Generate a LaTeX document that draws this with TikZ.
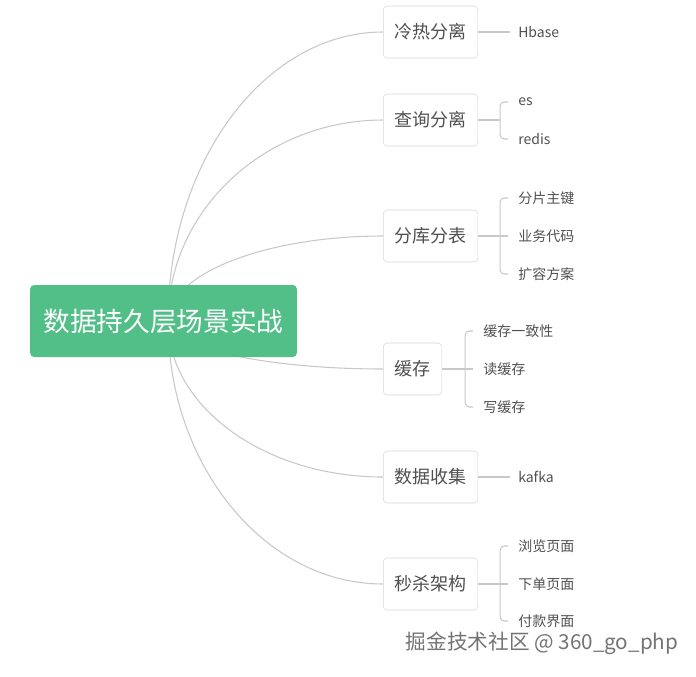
\documentclass[tikz,border=0pt]{standalone}
\usepackage{fontspec}
\setmainfont{Noto Sans CJK SC}
\usetikzlibrary{calc, backgrounds}
\definecolor{mapgreen}{HTML}{52BE88}
\definecolor{mapline}{HTML}{C8C8C8}
\definecolor{mapbox}{HTML}{D6D6D6}
\definecolor{maptext}{HTML}{505050}

\begin{document}
\begin{tikzpicture}[x=0.75pt, y=-0.75pt,
  root/.style={fill=mapgreen, rounded corners=3pt, text=white,
    minimum width=200pt, minimum height=54pt, font=\fontsize{20}{24}\selectfont},
  topic/.style={draw=mapbox, fill=white, rounded corners=3pt, anchor=west, text=maptext,
    minimum height=39pt, inner xsep=8.5pt, font=\fontsize{13.5}{16}\selectfont},
  leaf/.style={anchor=west, inner xsep=0pt, text=maptext, font=\fontsize{10.5}{12}\selectfont},
  branch/.style={draw=mapline, line width=0.8pt},
  fork/.style={draw=mapline, line width=0.8pt, rounded corners=3pt}]
  \useasboundingbox (0,0) rectangle (696,676);

  % second level
  \node[topic] (lengre) at (383,32) {冷热分离};
  \node[topic] (chaxun) at (383,120) {查询分离};
  \node[topic] (fenku) at (383,236) {分库分表};
  \node[topic] (huancun) at (383,369) {缓存};
  \node[topic] (shouji) at (383,477) {数据收集};
  \node[topic] (miaosha) at (383,584) {秒杀架构};

  % leaves
  \node[leaf] (hbase) at (518,32) {Hbase};
  \node[leaf] (es) at (518,102) {es};
  \node[leaf] (redis) at (518,139) {redis};
  \node[leaf] (zhujian) at (518,198) {分片主键};
  \node[leaf] (daima) at (518,236) {业务代码};
  \node[leaf] (kuorong) at (518,274) {扩容方案};
  \node[leaf] (yizhi) at (483,331) {缓存一致性};
  \node[leaf] (duhc) at (483,369) {读缓存};
  \node[leaf] (xiehc) at (483,407) {写缓存};
  \node[leaf] (kafka) at (518,477) {kafka};
  \node[leaf] (liulan) at (518,546) {浏览页面};
  \node[leaf] (xiadan) at (518,584) {下单页面};
  \node[leaf] (fukuan) at (518,621) {付款界面};

  % root
  \node[root] (main) at (163.5,321) {数据持久层场景实战};
  \coordinate (hub) at (168,321);

  \begin{scope}[on background layer]
    \draw[branch] (hub) .. controls ($(hub)!0.55!(hub|-lengre.west)$) and ($(lengre.west)!0.55!(hub|-lengre.west)$) .. (lengre.west);
    \draw[branch] (hub) .. controls ($(hub)!0.55!(hub|-chaxun.west)$) and ($(chaxun.west)!0.55!(hub|-chaxun.west)$) .. (chaxun.west);
    \draw[branch] (hub) .. controls ($(hub)!0.55!(hub|-fenku.west)$) and ($(fenku.west)!0.55!(hub|-fenku.west)$) .. (fenku.west);
    \draw[branch] (hub) .. controls ($(hub)!0.55!(hub|-huancun.west)$) and ($(huancun.west)!0.55!(hub|-huancun.west)$) .. (huancun.west);
    \draw[branch] (hub) .. controls ($(hub)!0.55!(hub|-shouji.west)$) and ($(shouji.west)!0.55!(hub|-shouji.west)$) .. (shouji.west);
    \draw[branch] (hub) .. controls ($(hub)!0.55!(hub|-miaosha.west)$) and ($(miaosha.west)!0.55!(hub|-miaosha.west)$) .. (miaosha.west);
  \end{scope}

  % single leaves
  \draw[branch] (lengre.east) -- ([xshift=-6pt]hbase.west);
  \draw[branch] (shouji.east) -- ([xshift=-6pt]kafka.west);

  % forks
  \draw[branch] (chaxun.east) -- ++(22,0) coordinate (jchaxun);
  \draw[fork] (jchaxun) |- ([xshift=-7.5pt]es.west);
  \draw[fork] (jchaxun) |- ([xshift=-7.5pt]redis.west);

  \draw[branch] (fenku.east) -- ++(22,0) coordinate (jfenku);
  \draw[fork] (jfenku) |- ([xshift=-7.5pt]zhujian.west);
  \draw[branch] (jfenku) -- ([xshift=-7.5pt]daima.west);
  \draw[fork] (jfenku) |- ([xshift=-7.5pt]kuorong.west);

  \draw[branch] (huancun.east) -- ++(23,0) coordinate (jhuancun);
  \draw[fork] (jhuancun) |- ([xshift=-7.5pt]yizhi.west);
  \draw[branch] (jhuancun) -- ([xshift=-7.5pt]duhc.west);
  \draw[fork] (jhuancun) |- ([xshift=-7.5pt]xiehc.west);

  \draw[branch] (miaosha.east) -- ++(22,0) coordinate (jmiaosha);
  \draw[fork] (jmiaosha) |- ([xshift=-7.5pt]liulan.west);
  \draw[branch] (jmiaosha) -- ([xshift=-7.5pt]xiadan.west);
  \draw[fork] (jmiaosha) |- ([xshift=-7.5pt]fukuan.west);

  % watermark
  \node[text=gray!90!black, font=\fontsize{15.5}{18}\selectfont] (mark) at (542,643) {掘金技术社区 @ 360\_go\_php};
\end{tikzpicture}
\end{document}
